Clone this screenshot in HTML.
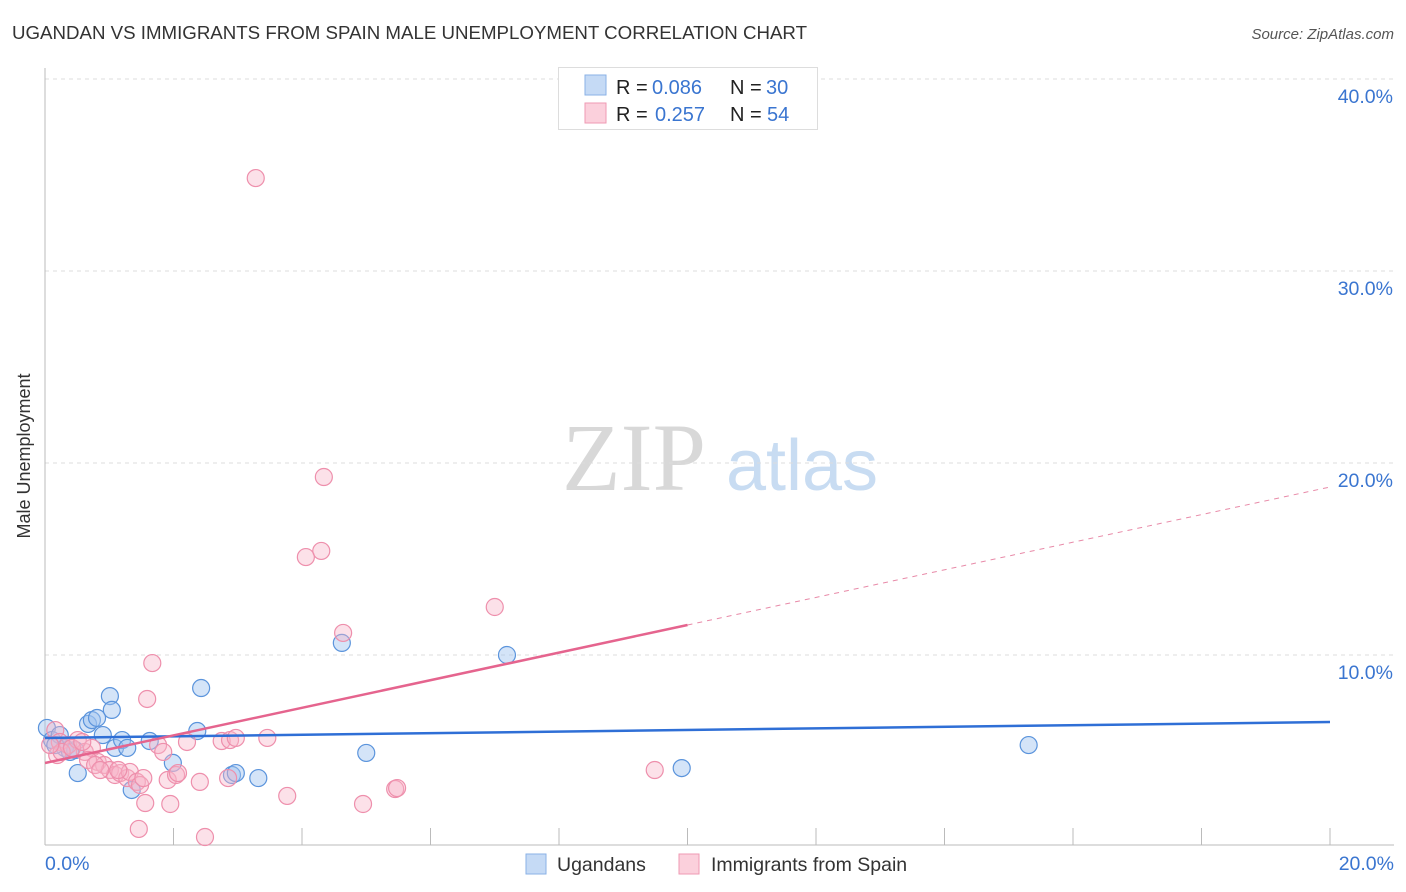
<!DOCTYPE html>
<html><head><meta charset="utf-8"><style>
body{margin:0;background:#fff;font-family:"Liberation Sans",sans-serif;}
svg{display:block}
</style></head><body>
<svg id="chart" width="1406" height="892">
<text x="12" y="39" font-size="18.7" fill="#333">UGANDAN VS IMMIGRANTS FROM SPAIN MALE UNEMPLOYMENT CORRELATION CHART</text>
<text x="1394" y="39" font-size="15" fill="#555" font-style="italic" text-anchor="end">Source: ZipAtlas.com</text>
<text x="30" y="456" font-size="18" fill="#333" text-anchor="middle" transform="rotate(-90 30 456)">Male Unemployment</text>
<g><text x="634" y="490" font-size="96" font-family="Liberation Serif,serif" fill="#d8d8d8" text-anchor="middle">ZIP</text><text x="802" y="490" font-size="72" fill="#c8dcf2" text-anchor="middle">atlas</text></g>
<g id="grid"></g><g id="axes"></g><g id="pts"></g><g id="trends"></g>
<g>
<rect x="558.5" y="67.5" width="259" height="62" fill="#fff" stroke="#ddd"/>
<rect x="585" y="75" width="21" height="20" fill="#c5daf5" stroke="#8ab1e6"/>
<rect x="585" y="103" width="21" height="20" fill="#fbd0dc" stroke="#ef9ab3"/>
<text x="616" y="94" font-size="20" fill="#222">R =</text>
<text x="652" y="94" font-size="20" fill="#3a75d0">0.086</text>
<text x="730" y="94" font-size="20" fill="#222">N =</text>
<text x="766" y="94" font-size="20" fill="#3a75d0">30</text>
<text x="616" y="121" font-size="20" fill="#222">R =</text>
<text x="655" y="121" font-size="20" fill="#3a75d0">0.257</text>
<text x="730" y="121" font-size="20" fill="#222">N =</text>
<text x="767" y="121" font-size="20" fill="#3a75d0">54</text>
</g>
<g>
<rect x="526" y="854" width="20" height="20" fill="#c5daf5" stroke="#8ab1e6"/>
<text x="557" y="871" font-size="19.5" fill="#333">Ugandans</text>
<rect x="679" y="854" width="20" height="20" fill="#fbd0dc" stroke="#ef9ab3"/>
<text x="711" y="871" font-size="19.5" fill="#333">Immigrants from Spain</text>
</g>
</svg>
<script>
const yTicks=[10,20,30,40];
const xTickLabels=["0.0%","20.0%"];
const blueX=[0.03,0.11,0.23,0.31,0.47,0.51,0.67,0.73,0.81,0.9,1.01,1.04,1.09,1.2,1.28,1.35,1.63,1.99,2.37,2.43,2.91,2.97,3.32,4.62,5.0,7.19,9.91,15.31,0.39,0.16];
const blueY=[6.2,5.57,5.83,5.16,5.05,3.85,6.41,6.61,6.72,5.83,7.86,7.14,5.16,5.57,5.16,2.97,5.52,4.38,6.04,8.28,3.75,3.85,3.59,10.63,4.9,10.0,4.11,5.31,4.95,5.31];
const pinkX=[3.28,4.34,4.30,4.06,7.00,4.64,1.67,1.59,0.16,0.23,0.19,0.36,0.51,0.62,0.73,0.82,0.92,1.01,1.09,1.17,1.28,1.32,1.43,1.48,1.56,1.46,1.76,1.84,1.91,2.04,1.95,2.21,2.41,2.49,2.75,2.88,2.97,2.85,3.46,3.77,4.95,5.45,5.48,9.49,0.26,0.42,0.58,0.67,0.78,0.86,1.14,1.53,2.07,0.08];
const pinkY=[34.84,19.27,15.42,15.10,12.5,11.15,9.58,7.71,6.09,5.47,4.79,5.31,5.57,4.95,5.16,4.43,4.27,4.01,3.75,3.85,3.59,3.91,3.39,3.23,2.29,0.94,5.31,4.95,3.49,3.75,2.24,5.47,3.39,0.52,5.52,5.57,5.68,3.59,5.68,2.66,2.24,3.02,3.07,4.01,4.95,5.16,5.47,4.53,4.27,4.01,4.01,3.59,3.85,5.31];
const blueTrend=[5.68,6.51];
const pinkTrend=[4.375,18.75];
const pinkSolidEnd=10;
const NS="http://www.w3.org/2000/svg";
const sx=v=>45+v/20*1285, sy=v=>847-v*19.2;
function mk(tag,a,p){const e=document.createElementNS(NS,tag);for(const k in a)e.setAttribute(k,a[k]);p.appendChild(e);return e;}
const grid=document.getElementById('grid'),axes=document.getElementById('axes');
yTicks.forEach(t=>{
 const l=mk('line',{x1:45,x2:1394,y1:sy(t),y2:sy(t),stroke:'#ddd','stroke-dasharray':'4,4'},grid);
 
 
 const tx=mk('text',{x:1393,y:sy(t)+24,'font-size':19.5,fill:'#3a75d0','text-anchor':'end'},axes);
 tx.textContent=t.toFixed(1)+'%';
 
 
});
mk('line',{x1:45,x2:45,y1:68,y2:845,stroke:'#bbb'},axes);
mk('line',{x1:45,x2:1394,y1:845,y2:845,stroke:'#bbb'},axes);
for(let i=1;i<=10;i++){const t=mk('line',{x1:sx(i*2),x2:sx(i*2),y1:828,y2:845,stroke:'#bbb'},axes);
 
 }
[[0,'start',45],[1,'end',1394]].forEach(([i,an,x])=>{const t=mk('text',{x:x,y:870,'font-size':19.5,fill:'#3a75d0','text-anchor':an},axes);t.textContent=xTickLabels[i];
 
 });
const pts=document.getElementById('pts');
blueX.forEach((x,i)=>{const c=mk('circle',{cx:sx(x),cy:sy(blueY[i]),r:8.5,fill:'rgba(160,196,240,0.45)',stroke:'#5b94dc','stroke-width':1.2},pts);
 
 });
pinkX.forEach((x,i)=>{const c=mk('circle',{cx:sx(x),cy:sy(pinkY[i]),r:8.5,fill:'rgba(248,180,200,0.4)',stroke:'#ee8fac','stroke-width':1.2},pts);
 
 });
const tr=document.getElementById('trends');
const bl=mk('line',{x1:sx(0),y1:sy(blueTrend[0]),x2:sx(20),y2:sy(blueTrend[1]),stroke:'#2f6fd6','stroke-width':2.5},tr);


const pm=pinkTrend[0]+(pinkTrend[1]-pinkTrend[0])*pinkSolidEnd/20;
const pl=mk('line',{x1:sx(0),y1:sy(pinkTrend[0]),x2:sx(pinkSolidEnd),y2:sy(pm),stroke:'#e5648e','stroke-width':2.5},tr);


const pd=mk('line',{x1:sx(pinkSolidEnd),y1:sy(pm),x2:sx(20),y2:sy(pinkTrend[1]),stroke:'#e88aa8','stroke-width':1,'stroke-dasharray':'5,5'},tr);


</script>
</body></html>
